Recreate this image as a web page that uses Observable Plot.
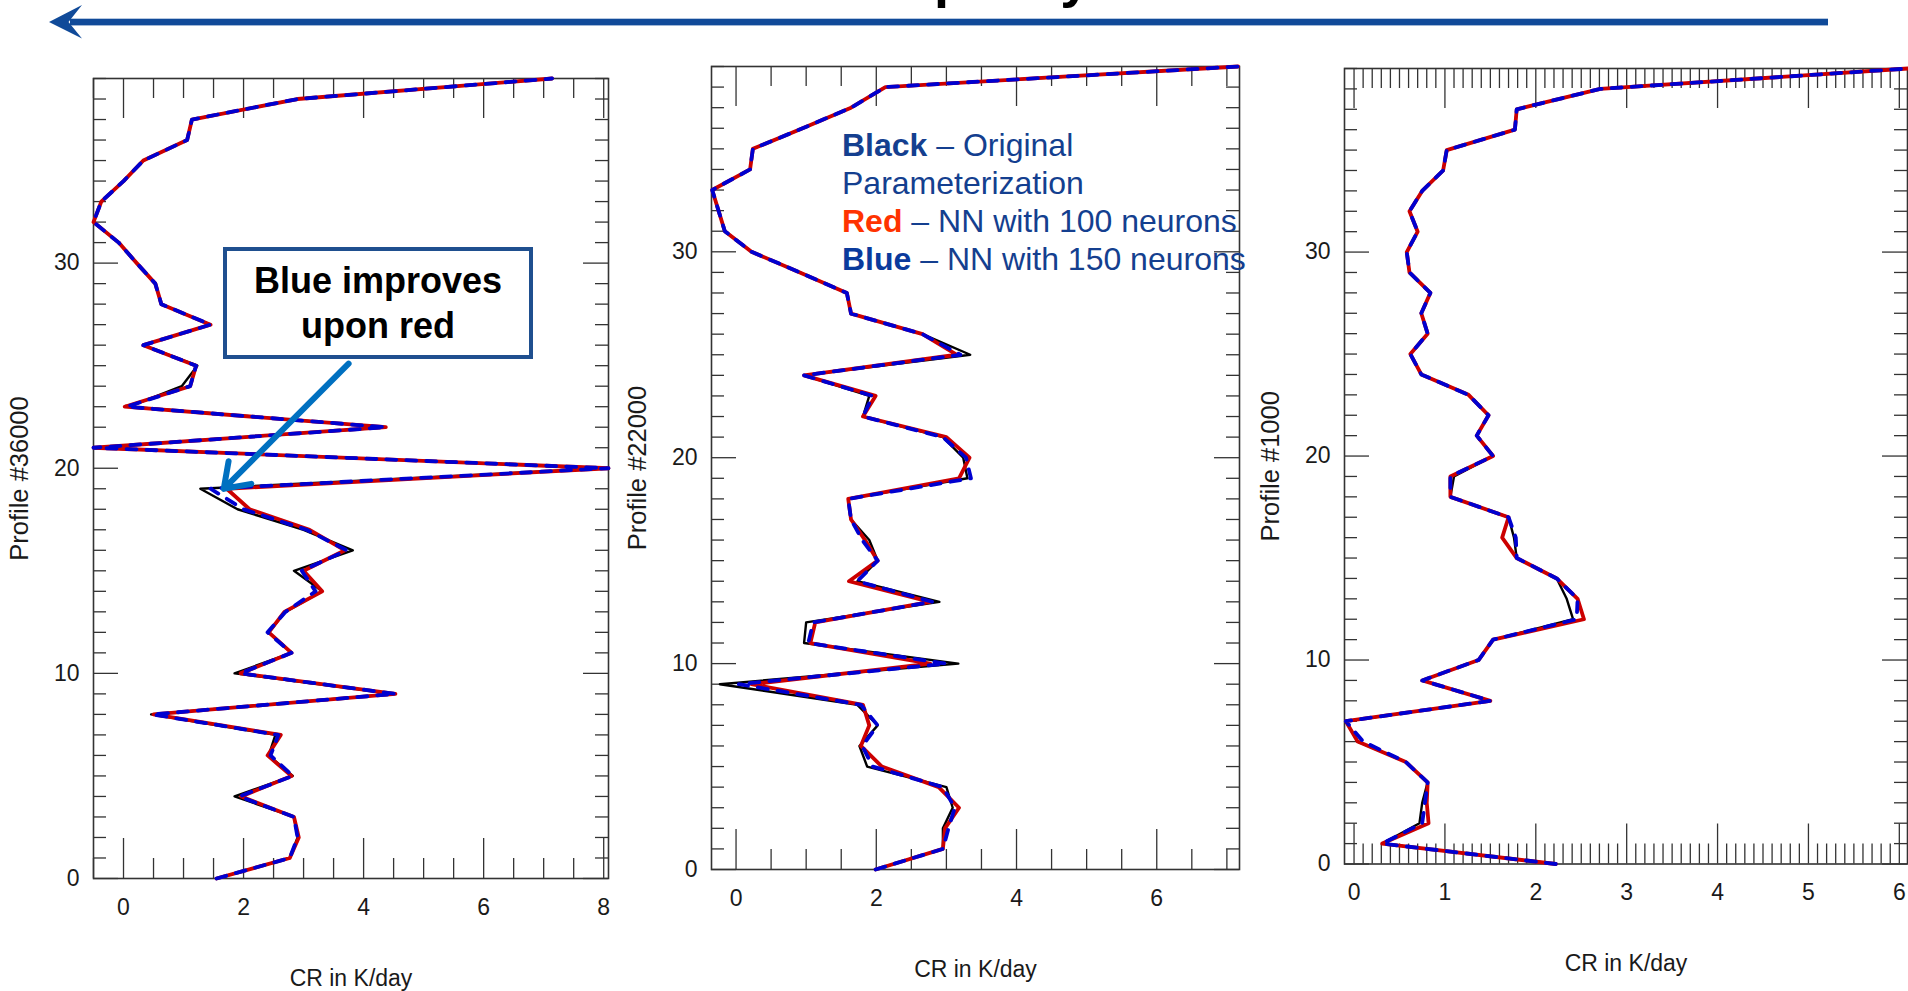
<!DOCTYPE html>
<html><head><meta charset="utf-8">
<script src="https://cdn.jsdelivr.net/npm/d3@7"></script>
<script src="https://cdn.jsdelivr.net/npm/@observablehq/plot@0.6"></script>
<style>
body{margin:0;background:#fff;}
#page{position:relative;width:1908px;height:991px;overflow:hidden;font-family:"Liberation Sans",Arial,Helvetica,sans-serif;background:#fff;}
.layer{position:absolute;left:0;top:0;}
#legend{position:absolute;left:842px;top:126px;font-size:32px;line-height:38px;color:#143f8f;white-space:nowrap;}
#legend b{font-weight:bold;}
#note{position:absolute;left:223px;top:247px;width:302px;height:104px;border:4px solid #1f4f8f;background:#fff;display:flex;align-items:center;justify-content:center;text-align:center;font-weight:bold;font-size:36px;line-height:45px;color:#000;}
</style></head><body><div id="page"></div>
<script>
// ---------- data (CR in K/day per model level) ----------
const levels = [0,1,2,3,4,5,6,7,8,9,10,11,12,13,14,15,16,17,18,19,20,21,22,23,24,25,26,27,28,29,30,31,32,33,34,35,36,37,38,39];

// Profile #36000
const p1Black = [1.55,2.77,2.90,2.84,1.85,2.82,2.42,2.53,0.46,4.48,1.85,2.80,2.42,2.70,3.31,2.84,3.82,3.00,1.90,1.28,8.08,-0.50,4.37,0.10,0.97,1.23,0.33,1.45,0.63,0.53,0.22,-0.08,-0.50,-0.37,0.00,0.33,1.06,1.14,2.90,7.14];
const p1Red   = [1.55,2.77,2.92,2.84,1.96,2.80,2.40,2.62,0.50,4.53,1.95,2.80,2.42,2.68,3.31,3.00,3.69,3.10,2.10,1.72,8.08,-0.50,4.37,0.02,1.11,1.21,0.33,1.45,0.63,0.53,0.22,-0.08,-0.50,-0.37,0.00,0.33,1.06,1.14,2.90,7.14];
const p1Blue  = [1.55,2.77,2.90,2.84,1.93,2.82,2.45,2.58,0.48,4.53,1.95,2.80,2.40,2.70,3.20,2.97,3.72,3.05,2.00,1.45,8.08,-0.50,4.37,0.05,1.11,1.21,0.33,1.45,0.63,0.53,0.22,-0.08,-0.50,-0.37,0.00,0.33,1.06,1.14,2.90,7.14];

// Profile #22000
const p2Black = [1.99,2.95,2.95,3.09,3.00,1.87,1.76,2.02,1.73,-0.23,3.17,0.97,1.00,2.90,1.73,2.02,1.90,1.64,1.60,3.30,3.24,2.95,1.81,1.90,0.97,3.34,2.66,1.64,1.58,0.91,0.22,-0.16,-0.25,-0.34,0.20,0.24,0.95,1.64,2.13,7.16];
const p2Red   = [1.99,2.95,2.98,3.18,2.89,2.08,1.78,1.90,1.81,0.22,2.77,1.06,1.13,2.77,1.61,2.02,1.84,1.64,1.60,3.18,3.33,3.00,1.81,1.99,0.97,3.15,2.66,1.64,1.58,0.91,0.22,-0.16,-0.25,-0.34,0.20,0.24,0.95,1.64,2.13,7.16];
const p2Blue  = [1.99,2.95,3.03,3.12,2.95,1.95,1.80,2.02,1.78,0.04,3.00,1.03,1.10,2.80,1.73,2.02,1.80,1.64,1.60,3.35,3.28,2.95,1.81,1.95,0.97,3.20,2.66,1.64,1.58,0.91,0.22,-0.16,-0.25,-0.34,0.20,0.24,0.95,1.64,2.13,7.16];

// Profile #1000
const p3Black = [2.22,0.31,0.72,0.75,0.81,0.57,0.04,-0.09,1.50,0.75,1.37,1.53,2.41,2.34,2.23,1.79,1.76,1.70,1.06,1.10,1.53,1.35,1.48,1.26,0.74,0.62,0.81,0.74,0.84,0.61,0.58,0.70,0.61,0.75,0.98,1.02,1.77,1.79,2.71,6.10];
const p3Red   = [2.22,0.31,0.82,0.80,0.81,0.57,0.04,-0.09,1.50,0.75,1.37,1.53,2.53,2.46,2.23,1.79,1.63,1.70,1.06,1.06,1.53,1.35,1.48,1.26,0.74,0.62,0.81,0.74,0.84,0.61,0.58,0.70,0.61,0.75,0.98,1.02,1.77,1.79,2.71,6.10];
const p3Blue  = [2.22,0.31,0.75,0.78,0.81,0.57,0.10,-0.09,1.50,0.75,1.37,1.53,2.45,2.46,2.23,1.79,1.78,1.70,1.06,1.06,1.53,1.35,1.48,1.26,0.74,0.62,0.81,0.74,0.84,0.61,0.58,0.70,0.61,0.75,0.98,1.02,1.77,1.79,2.71,6.10];

// tick labels
const yMajor = [0,10,20,30];
const p1XTicks = [0,2,4,6,8];
const p2XTicks = [0,2,4,6];
const p3XTicks = [0,1,2,3,4,5,6];

// annotation arrow (data coordinates of panel 1)
const noteArrow = [{x1: 3.75, y1: 25.1, x2: 1.67, y2: 19.0}];

// ---------- drawing ----------
(function () {
const W = 1908, H = 991;
const page = document.getElementById("page");
const FONT = "'Liberation Sans', Arial, Helvetica, sans-serif";

const panels = [
  {black: p1Black, red: p1Red, blue: p1Blue, yLabel: "Profile #36000",
   frame: {left: 93, right: 608, top: 78, bottom: 878}, xDomain: [-0.5, 8.08],
   xMajor: p1XTicks, xMinor: d3.range(-0.5, 8.01, 0.5), annotate: true},
  {black: p2Black, red: p2Red, blue: p2Blue, yLabel: "Profile #22000",
   frame: {left: 711, right: 1239, top: 66, bottom: 869}, xDomain: [-0.35, 7.18],
   xMajor: p2XTicks, xMinor: d3.range(0.5, 7.01, 0.5)},
  {black: p3Black, red: p3Red, blue: p3Blue, yLabel: "Profile #1000",
   frame: {left: 1344, right: 1907, top: 68, bottom: 863.5}, xDomain: [-0.105, 6.09],
   xMajor: p3XTicks, xMinor: d3.range(0, 6.09, 0.1)}
];

const yDomain = [0, 39];
const yMinor = levels;
const axisColor = "#333";

for (const cfg of panels) {
  const f = cfg.frame;
  const [x0, x1] = cfg.xDomain, [y0, y1] = yDomain;
  const ux = (x1 - x0) / (f.right - f.left);
  const uy = (y1 - y0) / (f.bottom - f.top);
  const rows = levels.map((L, i) => ({L, b: cfg.black[i], r: cfg.red[i], u: cfg.blue[i]}));
  const minorX = cfg.xMinor.filter(v => !cfg.xMajor.some(m => Math.abs(m - v) < 1e-6));
  const minorY = yMinor.filter(v => !yMajor.includes(v));
  const tk = {stroke: axisColor, strokeWidth: 1.3};
  const marks = [
    Plot.ruleX(cfg.xMajor, {x: d => d, y1: () => y0, y2: () => y0 + 40 * uy, ...tk}),
    Plot.ruleX(minorX, {x: d => d, y1: () => y0, y2: () => y0 + 20 * uy, ...tk}),
    Plot.ruleX(cfg.xMajor, {x: d => d, y1: () => y1 - 40 * uy, y2: () => y1, ...tk}),
    Plot.ruleX(minorX, {x: d => d, y1: () => y1 - 20 * uy, y2: () => y1, ...tk}),
    Plot.ruleY(yMajor, {y: d => d, x1: () => x0, x2: () => x0 + 25 * ux, ...tk}),
    Plot.ruleY(minorY, {y: d => d, x1: () => x0, x2: () => x0 + 13 * ux, ...tk}),
    Plot.ruleY(yMajor, {y: d => d, x1: () => x1 - 25 * ux, x2: () => x1, ...tk}),
    Plot.ruleY(minorY, {y: d => d, x1: () => x1 - 13 * ux, x2: () => x1, ...tk}),
    Plot.frame({stroke: axisColor, strokeWidth: 1.6}),
    Plot.axisX(cfg.xMajor, {anchor: "bottom", tickSize: 0, tickPadding: 20, fontSize: 23, label: null, fill: "#1a1a1a"}),
    Plot.axisY(yMajor, {anchor: "left", tickSize: 0, tickPadding: 14, fontSize: 23, label: null, fill: "#1a1a1a"}),
    Plot.text(["CR in K/day"], {text: d => d, frameAnchor: "bottom", lineAnchor: "middle", textAnchor: "middle", dy: 100, fontSize: 23, fill: "#1a1a1a"}),
    Plot.text([cfg.yLabel], {text: d => d, frameAnchor: "left", textAnchor: "middle", lineAnchor: "middle", rotate: -90, dx: -74, fontSize: 25.5, fill: "#1a1a1a"}),
    Plot.line(rows, {x: "b", y: "L", stroke: "#000", strokeWidth: 2.4}),
    Plot.line(rows, {x: "r", y: "L", stroke: "#cc0000", strokeWidth: 3.8}),
    Plot.line(rows, {x: "u", y: "L", stroke: "#0000d0", strokeWidth: 3.8, strokeDasharray: "10,10"})
  ];
  if (cfg.annotate) {
    marks.push(Plot.arrow(noteArrow, {x1: "x1", y1: "y1", x2: "x2", y2: "y2", stroke: "#0070c0", strokeWidth: 6, headLength: 7, headAngle: 70}));
  }
  const svg = Plot.plot({
    width: W, height: H,
    marginLeft: f.left, marginRight: W - f.right, marginTop: f.top, marginBottom: H - f.bottom,
    x: {domain: cfg.xDomain},
    y: {domain: yDomain},
    style: {background: "transparent", fontFamily: FONT, overflow: "visible", maxWidth: "none"},
    marks
  });
  svg.classList.add("layer");
  svg.style.position = "absolute";
  svg.style.left = "0px";
  svg.style.top = "0px";
  page.appendChild(svg);
}

const header = d3.create("svg").attr("width", W).attr("height", 60)
  .attr("class", "layer").style("position", "absolute").style("left", "0px").style("top", "0px").style("overflow", "visible");
header.append("text").attr("x", 646).attr("y", -3)
  .attr("font-family", FONT).attr("font-weight", "bold").attr("font-size", 54).attr("fill", "#000")
  .text("Network capacity");
header.append("rect").attr("x", 70).attr("y", 18.7).attr("width", 1828 - 70).attr("height", 6.7).attr("fill", "#104a99");
header.append("path").attr("d", "M49,22 L82,5 L68.5,22 L82,38.5 Z").attr("fill", "#104a99");
page.appendChild(header.node());

const legend = document.createElement("div");
legend.id = "legend";
legend.innerHTML = '<div><b>Black</b> \u2013 Original</div><div>Parameterization</div>' +
  '<div><b style="color:#ff3300">Red</b> \u2013 NN with 100 neurons</div>' +
  '<div><b style="color:#0a3a9c">Blue</b> \u2013 NN with 150 neurons</div>';
page.appendChild(legend);

const note = document.createElement("div");
note.id = "note";
note.innerHTML = "Blue improves<br>upon red";
page.appendChild(note);
})();
</script>
</body></html>
